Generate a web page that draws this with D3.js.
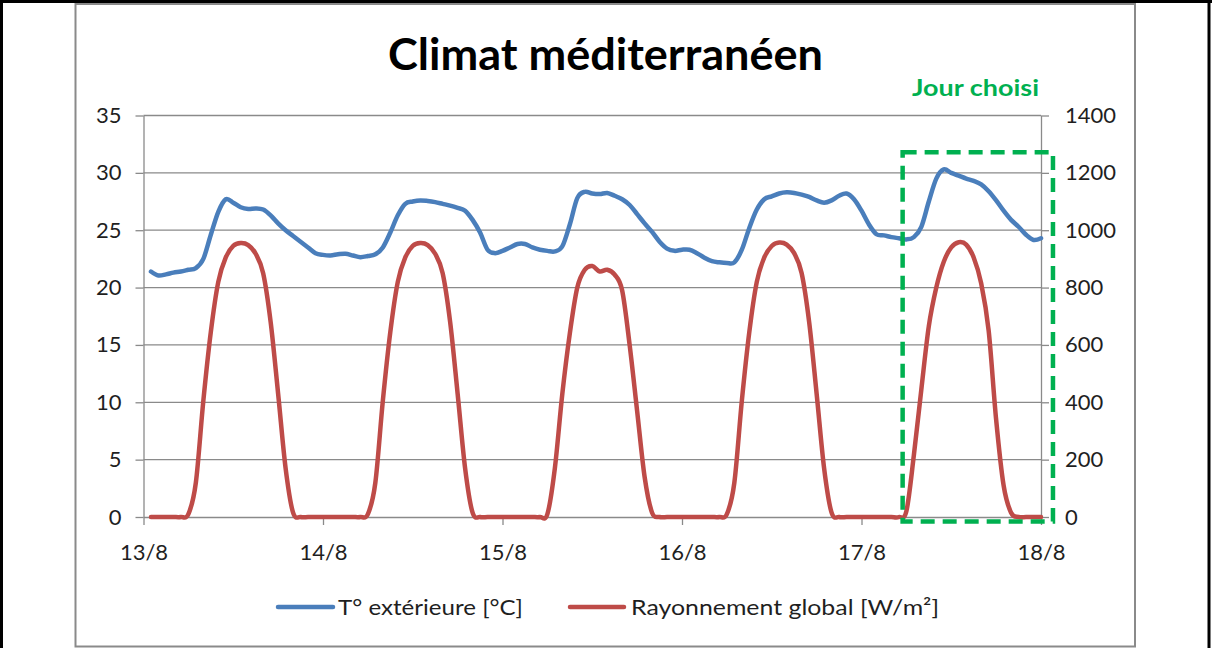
<!DOCTYPE html>
<html>
<head>
<meta charset="utf-8">
<script src="https://cdn.jsdelivr.net/npm/d3@7/dist/d3.min.js"></script>
<style>
  body { margin: 0; background: #fff; }
  svg { display: block; font-family: Lato, "Open Sans", sans-serif; }
</style>
</head>
<body>
<svg id="chart" width="1212" height="648"></svg>
<script>
// ---------- data ----------
const title = "Climat méditerranéen";
const dayLabels = ["13/8", "14/8", "15/8", "16/8", "17/8", "18/8"];
const dayTicks = [0, 24, 48, 72, 96, 120];           // hours since 13/8 00:00
const tempTicks = [0, 5, 10, 15, 20, 25, 30, 35];
const radTicks = [0, 200, 400, 600, 800, 1000, 1200, 1400];
const seriesNames = ["T° extérieure [°C]", "Rayonnement global [W/m²]"];
const selectedLabel = "Jour choisi";
// selected-day frame, in data units (hours, °C)
const selectedHours = [101.5, 121.6];
const selectedTemps = [-0.4, 31.8];

// hourly values, hour 1 .. 120
const hours = d3.range(1, 121);
const temperature = [
  21.4, 21.05, 21.15, 21.3, 21.4, 21.55, 21.7, 22.5, 24.6, 26.6,
  27.7, 27.4, 27.0, 26.85, 26.9, 26.8, 26.3, 25.6, 25.0, 24.5,
  24.0, 23.5, 23.0, 22.85, 22.8, 22.9, 22.95, 22.8, 22.65, 22.75,
  22.9, 23.5, 24.8, 26.3, 27.3, 27.5, 27.6, 27.55, 27.45, 27.3,
  27.15, 26.95, 26.7, 25.9, 24.8, 23.3, 23.0, 23.2, 23.5, 23.8,
  23.8, 23.5, 23.3, 23.2, 23.15, 23.6, 25.5, 27.8, 28.35, 28.2,
  28.15, 28.25, 28.0, 27.7, 27.2, 26.4, 25.6, 24.85, 24.0, 23.4,
  23.2, 23.3, 23.3, 23.0, 22.6, 22.3, 22.2, 22.15, 22.2, 23.3,
  25.2, 26.8, 27.7, 27.95, 28.2, 28.3, 28.25, 28.1, 27.9, 27.6,
  27.4, 27.6, 28.0, 28.2, 27.7, 26.7, 25.5, 24.65, 24.55, 24.4,
  24.3, 24.2, 24.4, 25.3, 27.5, 29.5, 30.3, 30.0, 29.75, 29.5,
  29.3, 29.0, 28.4, 27.6, 26.7, 25.9, 25.3, 24.6, 24.15, 24.3
];
const radiation = [
  0, 0, 0, 0, 0, 10, 120, 405, 645, 820,
  905, 945, 955, 948, 918, 850, 680, 430, 170, 15,
  0, 0, 0, 0, 0, 0, 0, 0, 0, 10,
  120, 405, 645, 820, 905, 945, 955, 948, 918, 850,
  680, 430, 170, 15, 0, 0, 0, 0, 0, 0,
  0, 0, 0, 10, 170, 430, 640, 800, 862, 875,
  856, 862, 845, 790, 600, 370, 140, 15, 0, 0,
  0, 0, 0, 0, 0, 0, 0, 10, 120, 405,
  645, 820, 905, 945, 957, 950, 920, 850, 680, 430,
  170, 15, 0, 0, 0, 0, 0, 0, 0, 0,
  0, 20, 215, 445, 665, 800, 890, 940, 958, 950,
  905, 815, 650, 340, 110, 15, 0, 0, 0, 0
];

// ---------- styles ----------
const gray = "#8a8a8a";
const textColor = "#1f1f1f";
const blue = "#4a7ebb";
const red = "#be4b48";
const green = "#00b050";

const svg = d3.select("#chart");
const plotLeft = 143.5, plotRight = 1041, plotTop = 115.5, plotBottom = 517;

const x = d3.scaleLinear().domain([0, 120]).range([plotLeft, plotRight]);
const yT = d3.scaleLinear().domain([0, 35]).range([plotBottom, plotTop]);
const yR = d3.scaleLinear().domain([0, 1400]).range([plotBottom, plotTop]);

// outer table-cell borders
svg.append("line").attr("x1", 0).attr("x2", 1212).attr("y1", 1.5).attr("y2", 1.5)
  .attr("stroke", "#000").attr("stroke-width", 3);
svg.append("line").attr("x1", 1.5).attr("x2", 1.5).attr("y1", 0).attr("y2", 648)
  .attr("stroke", "#000").attr("stroke-width", 3);
svg.append("line").attr("x1", 1209).attr("x2", 1209).attr("y1", 0).attr("y2", 648)
  .attr("stroke", "#000").attr("stroke-width", 3);

// chart frame
svg.append("rect").attr("x", 75.5).attr("y", 4).attr("width", 1059.5).attr("height", 642.5)
  .attr("fill", "#fff").attr("stroke", gray).attr("stroke-width", 2);

// gridlines
svg.append("g").selectAll("line").data(tempTicks.filter(d => d > 0)).join("line")
  .attr("x1", plotLeft).attr("x2", plotRight)
  .attr("y1", d => yT(d)).attr("y2", d => yT(d))
  .attr("stroke", gray).attr("stroke-width", 1.3);

function styleAxis(g) {
  g.attr("font-family", null).attr("font-size", null);
  g.select(".domain").attr("stroke", gray).attr("stroke-width", 1.3);
  g.selectAll(".tick line").attr("stroke", gray).attr("stroke-width", 1.3);
  g.selectAll(".tick text").attr("fill", textColor).attr("font-size", 22);
}

// left axis
svg.append("g").attr("transform", `translate(${plotLeft},0)`)
  .call(d3.axisLeft(yT).tickValues(tempTicks).tickFormat(d3.format("d"))
    .tickSize(8).tickSizeOuter(0).tickPadding(14))
  .call(styleAxis);

// right axis
svg.append("g").attr("transform", `translate(${plotRight},0)`)
  .call(d3.axisRight(yR).tickValues(radTicks).tickFormat(d3.format("d"))
    .tickSize(8).tickSizeOuter(0).tickPadding(16))
  .call(styleAxis);

// bottom axis
svg.append("g").attr("transform", `translate(0,${plotBottom})`)
  .call(d3.axisBottom(x).tickValues(dayTicks).tickFormat((d, i) => dayLabels[i])
    .tickSize(8).tickSizeOuter(0))
  .call(styleAxis)
  .call(g => g.selectAll(".tick text").attr("y", 43).attr("dy", 0));

// series (smoothed like the spreadsheet lines)
const smooth = d3.curveCardinal.tension(0);
const lineT = d3.line().x((d, i) => x(hours[i])).y(d => yT(d)).curve(smooth);
const lineR = d3.line().x((d, i) => x(hours[i])).y(d => yR(d)).curve(smooth);

svg.append("path").datum(radiation).attr("d", lineR)
  .attr("fill", "none").attr("stroke", red).attr("stroke-width", 4.5)
  .attr("stroke-linejoin", "round").attr("stroke-linecap", "round");
svg.append("path").datum(temperature).attr("d", lineT)
  .attr("fill", "none").attr("stroke", blue).attr("stroke-width", 4.5)
  .attr("stroke-linejoin", "round").attr("stroke-linecap", "round");

// selected-day frame
svg.append("rect")
  .attr("x", x(selectedHours[0])).attr("y", yT(selectedTemps[1]))
  .attr("width", x(selectedHours[1]) - x(selectedHours[0]))
  .attr("height", yT(selectedTemps[0]) - yT(selectedTemps[1]))
  .attr("fill", "none").attr("stroke", green).attr("stroke-width", 4.5)
  .attr("stroke-dasharray", "14 8");

svg.append("text").attr("x", 912).attr("y", 96)
  .attr("fill", green).attr("font-weight", 700).attr("font-size", 23)
  .attr("textLength", 127).attr("lengthAdjust", "spacingAndGlyphs")
  .text(selectedLabel);

// title
svg.append("text").attr("x", 388).attr("y", 70)
  .attr("fill", "#000").attr("font-weight", 700).attr("font-size", 44)
  .attr("textLength", 435).attr("lengthAdjust", "spacingAndGlyphs")
  .text(title);

// legend
const legendItems = [
  { name: seriesNames[0], color: blue, x1: 278, x2: 333, tx: 338, w: 185 },
  { name: seriesNames[1], color: red, x1: 570, x2: 624, tx: 631, w: 308 }
];
const lg = svg.append("g");
lg.selectAll("line").data(legendItems).join("line")
  .attr("x1", d => d.x1).attr("x2", d => d.x2).attr("y1", 607).attr("y2", 607)
  .attr("stroke", d => d.color).attr("stroke-width", 4.5).attr("stroke-linecap", "round");
lg.selectAll("text").data(legendItems).join("text")
  .attr("x", d => d.tx).attr("y", 615)
  .attr("fill", textColor).attr("font-size", 22)
  .attr("textLength", d => d.w).attr("lengthAdjust", "spacingAndGlyphs")
  .text(d => d.name);
</script>
</body>
</html>
